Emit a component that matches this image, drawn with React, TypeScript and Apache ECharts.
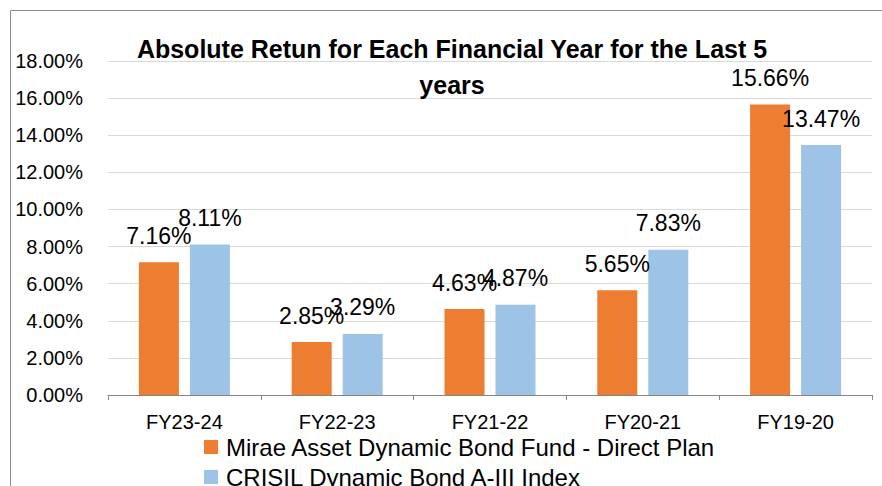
import React, { useEffect, useRef } from "react";
import * as echarts from "echarts";

const categories = ["FY23-24", "FY22-23", "FY21-22", "FY20-21", "FY19-20"];
const fundName = "Mirae Asset Dynamic Bond Fund - Direct Plan";
const indexName = "CRISIL Dynamic Bond A-III Index";
const fundValues = [7.16, 2.85, 4.63, 5.65, 15.66];
const indexValues = [8.11, 3.29, 4.87, 7.83, 13.47];
const titleText = "Absolute Retun for Each Financial Year for the Last 5\nyears";

const FONT = "'Liberation Sans', Arial, sans-serif";

export default function App() {
  const ref = useRef<HTMLDivElement>(null);
  useEffect(() => {
    if (!ref.current) return;
    const chart = echarts.init(ref.current, undefined, { renderer: "svg" });
    const pct = (v: number) => v.toFixed(2) + "%";
    chart.setOption({
      animation: false,
      backgroundColor: "#ffffff",
      textStyle: { fontFamily: FONT },
      title: {
        text: titleText,
        left: 452,
        top: 31,
        textAlign: "center",
        padding: 0,
        textStyle: {
          fontFamily: FONT,
          fontSize: 25,
          fontWeight: "bold",
          color: "#000000",
          lineHeight: 36,
          align: "center",
        },
      },
      graphic: [
        {
          type: "rect",
          shape: { x: 10.5, y: 10.5, width: 900, height: 500 },
          style: { fill: "none", stroke: "#898989", lineWidth: 1 },
          silent: true,
          z: -1,
        },
      ],
      legend: {
        orient: "vertical",
        left: 204,
        top: 435,
        height: 120,
        itemWidth: 14,
        itemHeight: 14,
        itemGap: 6,
        icon: "rect",
        padding: 0,
        textStyle: {
          fontFamily: FONT,
          fontSize: 24,
          color: "#000000",
          padding: [0, 0, 0, 3],
        },
        data: [fundName, indexName],
      },
      grid: { left: 108, right: 10, top: 61, bottom: 91, containLabel: false },
      xAxis: {
        type: "category",
        data: categories,
        axisLine: { lineStyle: { color: "#868686", width: 1 } },
        axisTick: { show: true, length: 5, lineStyle: { color: "#868686" } },
        axisLabel: { fontFamily: FONT, fontSize: 20, color: "#000000", margin: 17 },
      },
      yAxis: {
        type: "value",
        min: 0,
        max: 18,
        interval: 2,
        axisLine: { show: false },
        axisTick: { show: false },
        splitLine: { lineStyle: { color: "#d9d9d9", width: 1 } },
        axisLabel: {
          fontFamily: FONT,
          fontSize: 20,
          color: "#000000",
          margin: 25,
          formatter: (v: number) => pct(v),
        },
      },
      series: [
        {
          name: fundName,
          type: "bar",
          data: fundValues,
          barWidth: 40,
          barGap: "27.5%",
          itemStyle: { color: "#ED7D31" },
          label: {
            show: true,
            position: "top",
            distance: 15,
            fontFamily: FONT,
            fontSize: 23,
            color: "#000000",
            formatter: (p: any) => pct(p.value),
          },
        },
        {
          name: indexName,
          type: "bar",
          data: indexValues,
          barWidth: 40,
          barGap: "27.5%",
          itemStyle: { color: "#9DC3E6" },
          label: {
            show: true,
            position: "top",
            distance: 15,
            fontFamily: FONT,
            fontSize: 23,
            color: "#000000",
            formatter: (p: any) => pct(p.value),
          },
        },
      ],
    });
    return () => chart.dispose();
  }, []);
  return (
    <div
      ref={ref}
      style={{ position: "absolute", left: 0, top: 0, width: 882, height: 486 }}
    />
  );
}
